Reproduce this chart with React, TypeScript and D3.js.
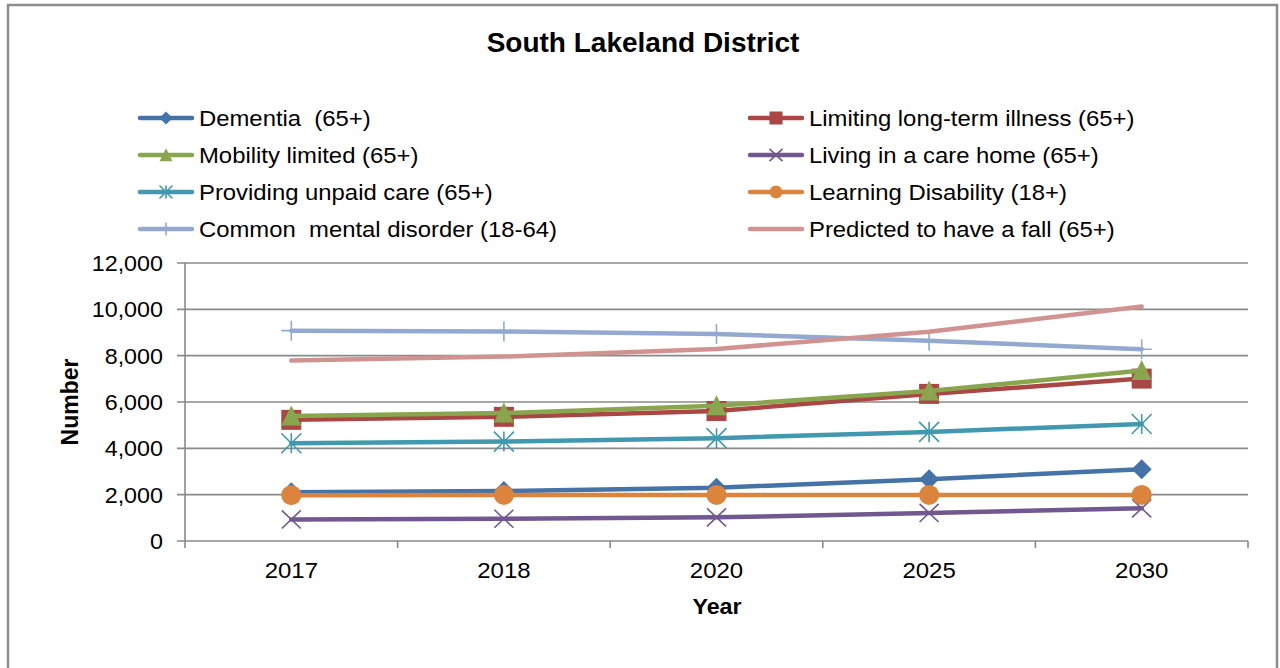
import * as d3 from "d3";

const years = ["2017", "2018", "2020", "2025", "2030"];
const yTicks = [0, 2000, 4000, 6000, 8000, 10000, 12000];

const dementia = [2100, 2160, 2300, 2670, 3100];
const longTermIllness = [5230, 5360, 5610, 6350, 7010];
const mobilityLimited = [5400, 5520, 5840, 6470, 7360];
const careHome = [930, 960, 1020, 1210, 1410];
const unpaidCare = [4220, 4290, 4440, 4710, 5050];
const learningDisability = [1980, 1990, 1990, 1990, 1990];
const mentalDisorder = [9080, 9040, 8940, 8640, 8280];
const predictedFall = [7790, 7960, 8290, 9030, 10120];

type Marker = "diamond" | "square" | "triangle" | "x" | "star" | "circle" | "plus" | "none";
type Series = { name: string; values: number[]; color: string; marker: Marker };

const series: Series[] = [
  { name: "Dementia  (65+)", values: dementia, color: "#4572A7", marker: "diamond" },
  { name: "Limiting long-term illness (65+)", values: longTermIllness, color: "#AA4643", marker: "square" },
  { name: "Mobility limited (65+)", values: mobilityLimited, color: "#89A54E", marker: "triangle" },
  { name: "Living in a care home (65+)", values: careHome, color: "#71588F", marker: "x" },
  { name: "Providing unpaid care (65+)", values: unpaidCare, color: "#4198AF", marker: "star" },
  { name: "Learning Disability (18+)", values: learningDisability, color: "#DB843D", marker: "circle" },
  { name: "Common  mental disorder (18-64)", values: mentalDisorder, color: "#93A9CF", marker: "plus" },
  { name: "Predicted to have a fall (65+)", values: predictedFall, color: "#D19392", marker: "none" },
];

const FONT = "'Liberation Sans', Arial, sans-serif";
const GRID = "#8a8a8a";

function MarkerShape({ type, x, y, s, color }: { type: Marker; x: number; y: number; s: number; color: string }) {
  const h = s / 2;
  switch (type) {
    case "diamond":
      return <path d={`M${x},${y - h}L${x + h},${y}L${x},${y + h}L${x - h},${y}Z`} fill={color} />;
    case "square":
      return <rect x={x - h} y={y - h} width={s} height={s} fill={color} />;
    case "triangle":
      return <path d={`M${x},${y - h * 1.05}L${x + h},${y + h * 0.95}L${x - h},${y + h * 0.95}Z`} fill={color} />;
    case "circle":
      return <circle cx={x} cy={y} r={h} fill={color} />;
    case "x":
      return (
        <path
          d={`M${x - h},${y - h * 0.95}L${x + h},${y + h * 0.95}M${x + h},${y - h * 0.95}L${x - h},${y + h * 0.95}`}
          stroke={color}
          strokeWidth={1.6}
          fill="none"
        />
      );
    case "star":
      return (
        <path
          d={`M${x - h},${y - h}L${x + h},${y + h}M${x + h},${y - h}L${x - h},${y + h}M${x},${y - h}L${x},${y + h}`}
          stroke={color}
          strokeWidth={1.6}
          fill="none"
        />
      );
    case "plus":
      return (
        <path
          d={`M${x - h},${y}L${x + h},${y}M${x},${y - h}L${x},${y + h}`}
          stroke={color}
          strokeWidth={1.6}
          fill="none"
        />
      );
    default:
      return null;
  }
}

// text slightly widened horizontally, as in the source rendering
function Label({
  x,
  y,
  sx = 1,
  anchor = "start",
  size = 22,
  bold = false,
  children,
}: {
  x: number;
  y: number;
  sx?: number;
  anchor?: "start" | "middle" | "end";
  size?: number;
  bold?: boolean;
  children: string;
}) {
  return (
    <text
      transform={`translate(${x},${y}) scale(${sx},1)`}
      textAnchor={anchor}
      fontSize={size}
      fontWeight={bold ? "bold" : "normal"}
      fill="#000"
      xmlSpace="preserve"
      style={{ whiteSpace: "pre" }}
    >
      {children}
    </text>
  );
}

export default function App() {
  const W = 1280;
  const H = 668;
  const plot = { left: 185, right: 1248, top: 263, bottom: 541 };

  const x = d3.scaleBand<string>().domain(years).range([plot.left, plot.right]);
  const y = d3.scaleLinear().domain([0, 12000]).range([plot.bottom, plot.top]);
  const cx = (yr: string) => (x(yr) ?? 0) + x.bandwidth() / 2;

  const line = d3
    .line<number>()
    .x((_, i) => cx(years[i]))
    .y((d) => y(d));

  const fmt = d3.format(",");
  const xTickPos = [...years.map((yr) => x(yr) ?? 0), plot.right];

  const legendRows = [118, 155, 192, 229];
  const legendCols = [140, 750];

  return (
    <svg
      width={W}
      height={H}
      style={{ position: "absolute", left: 0, top: 0, background: "#fff" }}
      fontFamily={FONT}
    >
      <rect x={0} y={0} width={W} height={H} fill="#fff" />
      <rect x={8} y={5} width={1269} height={720} fill="none" stroke="#8c8c8c" strokeWidth={2.5} />

      <Label x={643} y={52} anchor="middle" size={28} bold>
        South Lakeland District
      </Label>

      {/* legend */}
      {series.map((s, i) => {
        const lx = legendCols[i % 2];
        const ly = legendRows[Math.floor(i / 2)];
        return (
          <g key={s.name}>
            <line x1={lx} x2={lx + 52} y1={ly} y2={ly} stroke={s.color} strokeWidth={4.5} strokeLinecap="round" />
            <MarkerShape type={s.marker} x={lx + 26} y={ly} s={13} color={s.color} />
            <Label x={lx + 59} y={ly + 8} sx={1.085}>
              {s.name}
            </Label>
          </g>
        );
      })}

      {/* gridlines and y ticks */}
      {yTicks.map((t) => (
        <g key={t}>
          <line x1={plot.left - 8} x2={plot.right} y1={y(t)} y2={y(t)} stroke={GRID} strokeWidth={1.6} />
          <Label x={163} y={y(t) + 8} anchor="end" sx={1.06}>
            {fmt(t)}
          </Label>
        </g>
      ))}
      <line x1={plot.left} x2={plot.left} y1={plot.top} y2={plot.bottom} stroke={GRID} strokeWidth={1.6} />
      {xTickPos.map((p, i) => (
        <line key={i} x1={p} x2={p} y1={plot.bottom} y2={plot.bottom + 7} stroke={GRID} strokeWidth={1.6} />
      ))}
      {years.map((yr) => (
        <Label key={yr} x={cx(yr)} y={578} anchor="middle" sx={1.09}>
          {yr}
        </Label>
      ))}

      <Label x={717} y={614} anchor="middle" size={22} sx={1.06} bold>
        Year
      </Label>
      <text
        transform={`translate(78,402) rotate(-90)`}
        textAnchor="middle"
        fontSize={23}
        fontWeight="bold"
        fill="#000"
      >
        Number
      </text>

      {/* series */}
      {series.map((s) => (
        <g key={s.name}>
          <path d={line(s.values) ?? ""} fill="none" stroke={s.color} strokeWidth={4.5} strokeLinecap="round" strokeLinejoin="round" />
          {s.values.map((v, i) => (
            <MarkerShape key={i} type={s.marker} x={cx(years[i])} y={y(v)} s={s.marker === "x" ? 19 : 20} color={s.color} />
          ))}
        </g>
      ))}
    </svg>
  );
}
